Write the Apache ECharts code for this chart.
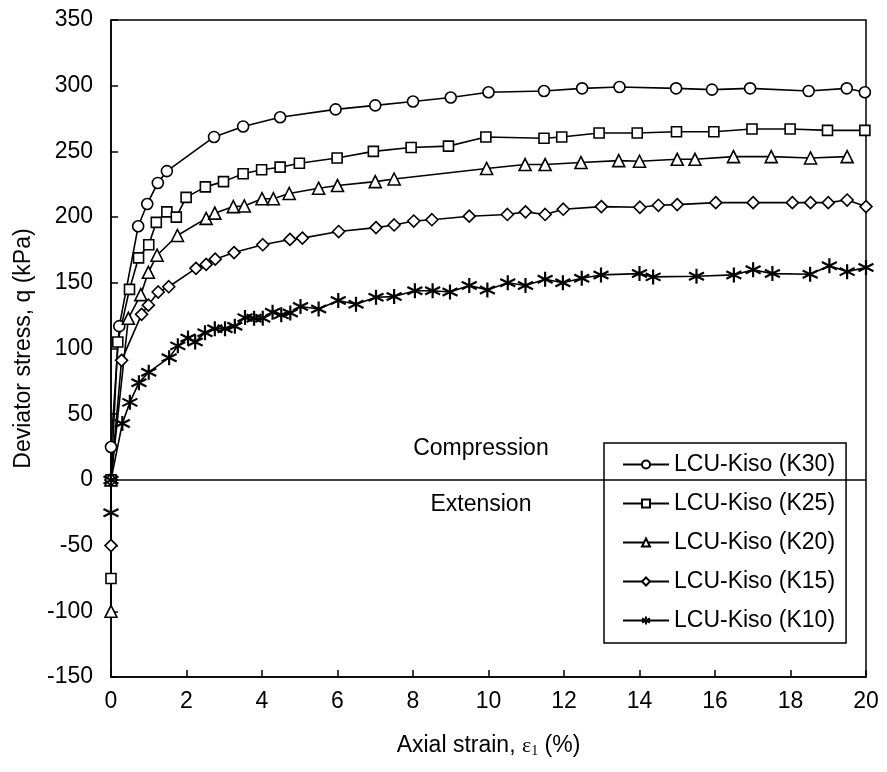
<!DOCTYPE html>
<html>
<head>
<meta charset="utf-8">
<script src="https://cdn.jsdelivr.net/npm/echarts@6/dist/echarts.min.js"></script>
<style>
html,body{margin:0;padding:0;background:#fff;}
#c{width:887px;height:772px;}
</style>
</head>
<body>
<div id="c"></div>
<script>
// ---- data (x: axial strain %, y: deviator stress kPa) ----
const seriesNames = ['LCU-Kiso (K30)','LCU-Kiso (K25)','LCU-Kiso (K20)','LCU-Kiso (K15)','LCU-Kiso (K10)'];

const k30 = [[0,0],[0,25],[0.22,117],[0.72,193],[0.96,210],[1.24,226],[1.48,235],[2.73,261],[3.5,269],[4.48,276],[5.95,282],[7.0,285],[8.0,288],[9.0,291],[10.0,295],[11.47,296],[12.48,298],[13.47,299],[14.97,298],[15.92,297],[16.93,298],[18.48,296],[19.49,298],[19.97,295]];

const k25 = [[0,-75],[0,0],[0.18,105],[0.49,145],[0.73,169],[1.0,179],[1.2,196],[1.48,204],[1.73,200],[1.99,215],[2.5,223],[2.98,227],[3.5,233],[3.99,236],[4.48,238],[4.99,241],[5.99,245],[6.95,250],[7.95,253],[8.94,254],[9.93,261],[11.47,260],[11.94,261],[12.93,264],[13.94,264],[14.98,265],[15.97,265],[16.98,267],[17.99,267],[18.98,266],[19.97,266]];

const k20 = [[0,-100],[0,0],[0.46,123],[0.79,141],[0.99,158],[1.22,171],[1.76,186],[2.52,199],[2.75,203],[3.24,208],[3.53,208.5],[4.0,214],[4.3,214],[4.72,218],[5.5,222],[6.0,224],[7.0,227],[7.5,229],[9.95,237],[10.97,240],[11.5,240],[12.45,241.5],[13.45,243],[14.0,242.5],[15.0,244],[15.47,244],[16.49,246],[17.49,246],[18.53,245],[19.5,246]];

const k15 = [[0,-50],[0,0],[0.28,91],[0.81,126],[0.99,133],[1.25,143],[1.53,147],[2.25,161],[2.52,164],[2.76,168],[3.26,173],[4.02,179],[4.74,183],[5.07,184],[6.03,189],[7.02,192],[7.5,194],[8.02,197],[8.5,198],[9.49,200.7],[10.5,202],[10.98,204],[11.5,202],[11.98,206],[12.99,208],[14.01,207.5],[14.5,209],[15.0,209.5],[16.02,211],[17.01,211],[18.05,211],[18.53,211],[19.0,211],[19.5,213],[20,208]];

const k10 = [[0,-25],[0,0],[0.3,43],[0.5,59],[0.74,74],[1.0,82],[1.54,93],[1.77,102],[2.04,108],[2.23,105],[2.49,112],[2.75,115],[3.02,115],[3.28,117],[3.55,123.5],[3.79,123],[4.02,123],[4.28,127.6],[4.51,125.6],[4.75,127],[5.02,132],[5.5,130],[6.02,136.5],[6.49,133.7],[7.02,139],[7.5,139.5],[8.05,144],[8.52,144],[8.98,143],[9.49,148],[9.97,144.6],[10.51,150],[10.98,148],[11.5,152.7],[11.97,150],[12.47,153.5],[12.98,156],[14.0,157],[14.36,154.5],[15.51,155],[16.5,156],[17.01,160],[17.52,157],[18.52,156.5],[19.03,163],[19.5,158.5],[20,161.6]];

const xTicks = {min:0, max:20, interval:2};
const yTicks = {min:-150, max:350, interval:50};
const annotations = [{text:'Compression', coord:[9.8,23.5]},{text:'Extension', coord:[9.8,-18.5]}];

// ---- chart ----
const FONT = '"Liberation Sans", Arial, Helvetica, sans-serif';
const asterisk = 'path://M0,-10L0,10M-8.66,-5L8.66,5M-8.66,5L8.66,-5';
const symbols = ['circle','rect','triangle','diamond',asterisk];
const sizes = [11,10,12,12,15];
const dataSets = [k30,k25,k20,k15,k10];

const series = dataSets.map((d,i)=>({
  name: seriesNames[i],
  type: 'line',
  data: d,
  symbol: symbols[i],
  symbolSize: sizes[i],
  showAllSymbol: true,
  clip: false,
  lineStyle: {color:'#000', width:1.6},
  itemStyle: {color: i===4 ? '#000' : '#fff', borderColor:'#000', borderWidth: i===4 ? 2.2 : 1.6},
  z: 3,
  animation: false
}));

// zero line and text annotations
series.push({
  type:'line',
  data: [],
  silent: true,
  animation:false,
  markLine: {
    silent:true, symbol:['none','none'], label:{show:false},
    lineStyle:{color:'#000', width:1.5, type:'solid'},
    data:[{yAxis:0}]
  },
  markPoint: {
    silent:true, symbol:'circle', symbolSize:0,
    label:{show:true, color:'#000', fontSize:23, fontFamily:FONT, position:'inside', formatter: p=>p.name},
    data: annotations.map(a=>({name:a.text, coord:a.coord}))
  }
});

const chart = echarts.init(document.getElementById('c'), null, {renderer:'canvas'});
chart.setOption({
  backgroundColor:'#fff',
  animation:false,
  textStyle:{fontFamily:FONT},
  grid:{left:111, right:21, top:20, bottom:95, show:true, borderColor:'#000', borderWidth:1.5, backgroundColor:'transparent'},
  legend:{
    orient:'vertical', left:604, top:443,
    data: seriesNames,
    backgroundColor:'#fff', borderColor:'#000', borderWidth:1.5,
    padding:[10,11,11,18],
    itemWidth:46, itemHeight:10, itemGap:16,
    textStyle:{fontSize:23, color:'#000', fontFamily:FONT, lineHeight:23},
    selectedMode:false
  },
  xAxis:{
    type:'value', min:xTicks.min, max:xTicks.max, interval:xTicks.interval,
    axisLine:{onZero:false, lineStyle:{color:'#000', width:1.5}},
    axisTick:{inside:true, length:7, lineStyle:{color:'#000', width:1.5}},
    axisLabel:{color:'#000', fontSize:23, margin:13, fontFamily:FONT},
    splitLine:{show:false},
    name:'Axial strain, {eps|ε}{sub|1} (%)',
    nameLocation:'middle', nameGap:57,
    nameTextStyle:{color:'#000', fontSize:23, fontFamily:FONT,
      rich:{eps:{fontFamily:'"Liberation Serif", "Times New Roman", serif', fontSize:22, color:'#000'},
            sub:{fontFamily:'"Liberation Serif", "Times New Roman", serif', fontSize:14, color:'#000', padding:[10,0,0,0]}}}
  },
  yAxis:{
    type:'value', min:yTicks.min, max:yTicks.max, interval:yTicks.interval,
    axisLine:{onZero:false, lineStyle:{color:'#000', width:1.5}},
    axisTick:{inside:true, length:7, lineStyle:{color:'#000', width:1.5}},
    axisLabel:{color:'#000', fontSize:23, margin:18, fontFamily:FONT},
    splitLine:{show:false},
    name:'Deviator stress, q (kPa)',
    nameLocation:'middle', nameGap:76, nameRotate:90,
    nameTextStyle:{color:'#000', fontSize:23, fontFamily:FONT}
  },
  series: series
});
</script>
</body>
</html>
